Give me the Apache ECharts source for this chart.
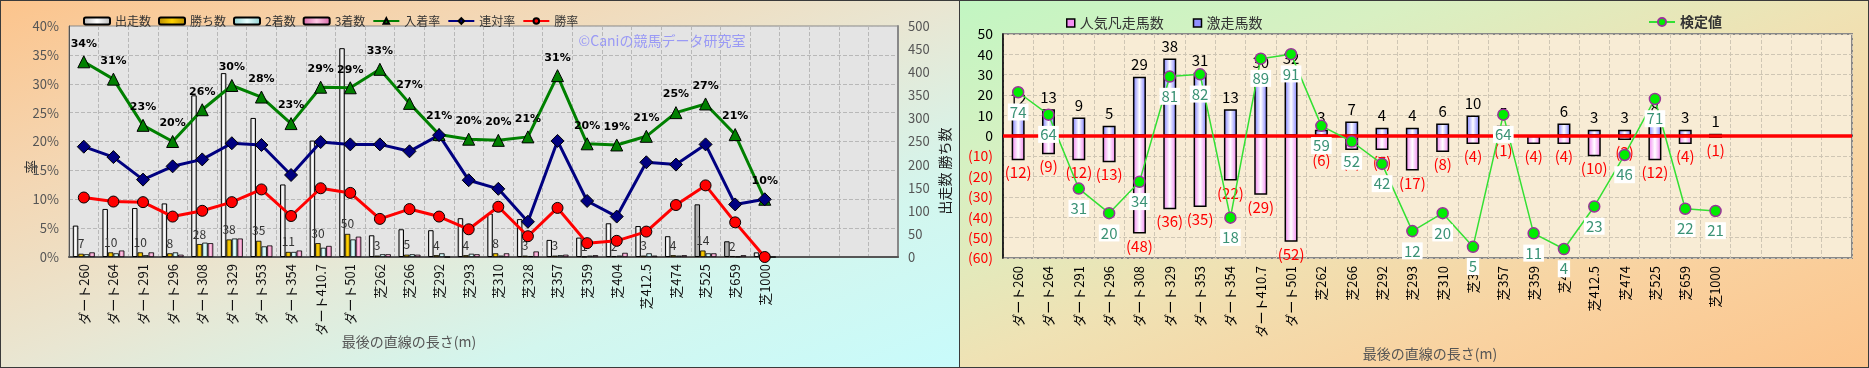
<!DOCTYPE html>
<html><head><meta charset="utf-8">
<script src="https://cdn.jsdelivr.net/npm/echarts@6/dist/echarts.min.js"></script>
<style>
html,body{margin:0;padding:0;width:1869px;height:368px;overflow:hidden;background:#fff;}
#left{position:absolute;left:0;top:0;width:959px;height:368px;background:linear-gradient(to bottom right,#fcc48c 0%,#f4d6b2 25%,#e9e6d2 50%,#d3f6ee 75%,#c8fbfb 100%);}
#right{position:absolute;left:959px;top:0;width:910px;height:368px;background:linear-gradient(to bottom right,#c2f6c2 0%,#d8f0c2 25%,#efe2b4 50%,#f9d2a0 75%,#fcc48c 100%);}
.frame{position:absolute;top:0;height:368px;box-sizing:border-box;border:1px solid #3a3a3a;pointer-events:none;}
</style></head>
<body>
<div id="left"></div>
<div id="right"></div>
<div class="frame" style="left:0;width:960px;"></div>
<div class="frame" style="left:959px;width:910px;"></div>
<script>
// ---- data ----
const categories = ['ダート260','ダート264','ダート291','ダート296','ダート308','ダート329','ダート353','ダート354','ダート410.7','ダート501','芝262','芝266','芝292','芝293','芝310','芝328','芝357','芝359','芝404','芝412.5','芝474','芝525','芝659','芝1000'];
const rightCategories = ['ダート260','ダート264','ダート291','ダート296','ダート308','ダート329','ダート353','ダート354','ダート410.7','ダート501','芝262','芝266','芝292','芝293','芝310','芝32','芝357','芝359','芝40','芝412.5','芝474','芝525','芝659','芝1000'];
const emptySlots = ['','','',''];
const runners = [68,104,106,116,350,398,301,157,252,452,47,60,58,84,94,82,37,42,73,67,45,114,34,10];
const wins    = [7,10,10,8,28,38,35,11,30,50,3,5,4,4,8,3,3,1,2,3,4,14,2,0];
const seconds = [6,8,4,10,31,40,23,11,20,38,6,6,8,7,3,2,4,3,3,8,3,8,1,1];
const thirds  = [10,14,10,5,30,40,25,14,24,44,6,5,0,6,8,12,5,4,9,3,4,8,4,0];
const placeRate = [33.8,30.8,22.8,20.0,25.5,29.7,27.7,23.1,29.4,29.3,32.5,26.6,21.2,20.4,20.2,20.8,31.4,19.6,19.4,20.9,25.0,26.5,21.2,10.0];
const rentaiRate = [19.1,17.3,13.4,15.7,16.9,19.7,19.4,14.2,19.9,19.5,19.5,18.3,21.1,13.3,11.8,6.1,20.1,9.7,7.0,16.4,16.0,19.5,9.1,10.0];
const winRate = [10.3,9.6,9.5,7.0,8.0,9.5,11.7,7.1,11.9,11.1,6.6,8.3,7.0,4.8,8.7,3.6,8.5,2.4,2.8,4.4,9.0,12.4,6.0,0];
const gekisou = [12,13,9,5,29,38,31,13,30,32,3,7,4,4,6,10,5,0,6,3,3,8,3,1];
const bonsou  = [12,9,12,13,48,36,35,22,29,52,6,7,7,17,8,4,1,4,4,10,2,12,4,1];
const kentei  = [74,64,31,20,34,81,82,18,89,91,59,52,42,12,20,5,64,11,4,23,46,71,22,21];
const leftPctTicks = {min:0,max:40,interval:5};
const leftCountTicks = {min:0,max:500,interval:50};
const rightTicks = {min:-60,max:50,interval:10};
const greyRunnerIdx = [21,22];

const FONT = '"Noto Sans CJK JP","Noto Sans",sans-serif';
function hGrad(edge, mid){
  return new echarts.graphic.LinearGradient(0,0,1,0,[{offset:0,color:edge},{offset:0.5,color:mid},{offset:1,color:edge}]);
}

// ---- left chart ----
const left = echarts.init(document.getElementById('left'), null, {renderer:'canvas'});
const leftCats = categories.concat(emptySlots);
const dashed = {lineStyle:{color:'#b8b8b8',type:'dashed',width:1}};
left.setOption({
  animation:false,
  textStyle:{fontFamily:FONT},
  legend:{left:78,top:10,itemWidth:26,itemHeight:7,itemGap:7,
    textStyle:{fontFamily:FONT,fontSize:12,color:'#333'},
    data:['出走数','勝ち数','2着数','3着数','入着率','連対率','勝率']},
  grid:{left:69,right:61,top:26,bottom:111,show:true,backgroundColor:'#e4e4e4',borderColor:'#888',borderWidth:1},
  xAxis:{type:'category',data:leftCats,
    axisLine:{lineStyle:{color:'#555',width:2}},axisTick:{show:false},
    axisLabel:{rotate:90,interval:0,fontSize:13,color:'#111',margin:7,fontFamily:FONT},
    splitLine:{show:true,interval:0,...dashed}},
  yAxis:[
    {type:'value',...leftPctTicks,axisLabel:{formatter:'{value}%',fontSize:13,color:'#555',margin:10,fontFamily:FONT},
      axisLine:{show:true,lineStyle:{color:'#555',width:1}},axisTick:{show:false},splitLine:dashed},
    {type:'value',...leftCountTicks,position:'right',axisLabel:{fontSize:13,color:'#555',margin:10,fontFamily:FONT},
      axisLine:{show:true,lineStyle:{color:'#888',width:2}},axisTick:{show:false},splitLine:{show:false}}
  ],
  graphic:[
    {type:'text',x:662,y:41,style:{text:'©Caniの競馬データ研究室',fill:'#9a9af5',font:'14px '+FONT,textAlign:'center',textVerticalAlign:'middle'},z:1},
    {type:'text',x:409,y:342,style:{text:'最後の直線の長さ(m)',fill:'#555',font:'14px '+FONT,textAlign:'center',textVerticalAlign:'middle'}},
    {type:'text',x:31,y:167,rotation:Math.PI/2,style:{text:'率',fill:'#333',font:'14px '+FONT,textAlign:'center',textVerticalAlign:'middle'}},
    {type:'text',x:945,y:171,rotation:Math.PI/2,style:{text:'出走数 勝ち数',fill:'#222',font:'14px '+FONT,textAlign:'center',textVerticalAlign:'middle'}}
  ],
  series:[
    {name:'出走数',type:'bar',yAxisIndex:1,barWidth:5.5,barGap:'0%',
      data:runners.map((v,i)=>greyRunnerIdx.includes(i)?{value:v,itemStyle:{color:'#b0b0b0'}}:v),
      itemStyle:{color:hGrad('#b8b8b8','#ffffff'),borderColor:'#000',borderWidth:1}},
    {name:'勝ち数',type:'bar',yAxisIndex:1,barWidth:5.5,barGap:'0%',data:wins,
      itemStyle:{color:hGrad('#b88a00','#ffd200'),borderColor:'#000',borderWidth:0.8},
      label:{show:true,position:'top',distance:4,fontSize:12,color:'#333',fontFamily:FONT,formatter:p=>p.value>0?String(p.value):''}},
    {name:'2着数',type:'bar',yAxisIndex:1,barWidth:5.5,barGap:'0%',data:seconds,
      itemStyle:{color:hGrad('#8fd0d0','#e8ffff'),borderColor:'#000',borderWidth:0.8}},
    {name:'3着数',type:'bar',yAxisIndex:1,barWidth:5.5,barGap:'0%',data:thirds,
      itemStyle:{color:hGrad('#d866a8','#ffc8e4'),borderColor:'#000',borderWidth:0.8}},
    {name:'入着率',type:'line',yAxisIndex:0,data:placeRate,symbol:'triangle',symbolSize:12,z:5,
      lineStyle:{color:'#008000',width:3},itemStyle:{color:'#008000',borderColor:'#000',borderWidth:1},
      label:{show:true,position:'top',distance:6,formatter:p=>Math.round(p.value)+'%',fontSize:11,fontWeight:'bold',color:'#000',fontFamily:'"DejaVu Sans",sans-serif'}},
    {name:'連対率',type:'line',yAxisIndex:0,data:rentaiRate,symbol:'diamond',symbolSize:13,z:5,
      lineStyle:{color:'#000080',width:3},itemStyle:{color:'#000080',borderColor:'#000',borderWidth:1}},
    {name:'勝率',type:'line',yAxisIndex:0,data:winRate,symbol:'circle',symbolSize:11,z:5,
      lineStyle:{color:'#ff0000',width:3},itemStyle:{color:'#ff0000',borderColor:'#000',borderWidth:1}}
  ]
});

// ---- right chart ----
const right = echarts.init(document.getElementById('right'), null, {renderer:'canvas'});
const rightCats = rightCategories.concat(emptySlots);
const dashed2 = {lineStyle:{color:'#cfc6b4',type:'dashed',width:1}};
right.setOption({
  animation:false,
  textStyle:{fontFamily:FONT},
  legend:[
    {left:102,top:11,itemWidth:8,itemHeight:8,itemGap:29,icon:'rect',
      textStyle:{fontFamily:FONT,fontSize:14,color:'#333'},
      data:[{name:'人気凡走馬数',itemStyle:{color:'#f590f5',borderColor:'#000',borderWidth:1.5}},
            {name:'激走馬数',itemStyle:{color:'#9090ff',borderColor:'#000',borderWidth:1.5}}]},
    {left:684,top:10,itemWidth:26,itemHeight:10,
      textStyle:{fontFamily:FONT,fontSize:14,color:'#333',fontWeight:'bold'},data:['検定値']}
  ],
  grid:{left:44,right:17,top:34,bottom:110,show:true,backgroundColor:'#f8ecd5',borderColor:'#888',borderWidth:2},
  xAxis:{type:'category',data:rightCats,
    axisLine:{lineStyle:{color:'#000',width:1.5}},axisTick:{show:false},
    axisLabel:{rotate:90,interval:0,fontSize:13,color:'#000',margin:8,fontFamily:FONT},
    splitLine:{show:true,interval:0,...dashed2}},
  yAxis:[
    {type:'value',...rightTicks,
      axisLabel:{formatter:v=>v<0?'('+(-v)+')':String(v),color:(v)=>v<0?'#ff0000':'#000',fontSize:14,margin:10,fontFamily:FONT},
      axisLine:{show:true,lineStyle:{color:'#000',width:1.5}},axisTick:{show:false},splitLine:dashed2},
    {type:'value',min:0,max:100,show:false}
  ],
  graphic:[
    {type:'text',x:471,y:354,style:{text:'最後の直線の長さ(m)',fill:'#555',font:'14px '+FONT,textAlign:'center',textVerticalAlign:'middle'}}
  ],
  series:[
    {name:'人気凡走馬数',type:'bar',data:bonsou.map(v=>-v),barWidth:13,barGap:'-100%',
      itemStyle:{color:hGrad('#f080f0','#ffffff'),borderColor:'#000',borderWidth:1.5},
      label:{show:true,position:'bottom',distance:5,formatter:p=>'('+(-p.value)+')',color:'#ff0000',fontSize:15,fontFamily:FONT}},
    {name:'激走馬数',type:'bar',data:gekisou,barWidth:13,barGap:'-100%',
      itemStyle:{color:hGrad('#7878ff','#ffffff'),borderColor:'#000',borderWidth:1.5},
      label:{show:true,position:'top',distance:5,formatter:p=>p.value>0?String(p.value):'',color:'#000',fontSize:15,fontFamily:FONT},
      markLine:{silent:true,symbol:['none','none'],label:{show:false},lineStyle:{color:'#ff0000',width:3.5,type:'solid'},data:[{yAxis:0}]}},
    {name:'検定値',type:'line',yAxisIndex:1,data:kentei,symbol:'circle',symbolSize:11,z:6,
      lineStyle:{color:'#33e033',width:1.5},itemStyle:{color:'#00ee00',borderColor:'#993399',borderWidth:1.5},
      label:{show:true,position:'bottom',distance:5,color:'#3a9275',fontSize:15,backgroundColor:'#ffffff',padding:[1,2],fontFamily:FONT}}
  ]
});
</script>
</body></html>
